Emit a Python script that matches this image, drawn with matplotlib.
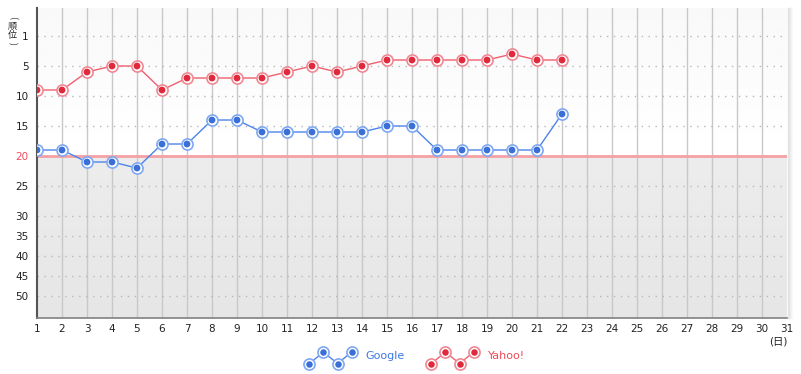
import numpy as np
import matplotlib
matplotlib.use("Agg")
import matplotlib.pyplot as plt
from matplotlib.lines import Line2D
from matplotlib.legend_handler import HandlerBase

plt.rcParams['font.family'] = ['DejaVu Sans', 'Noto Sans CJK JP']

# データ (日ごとの順位)
days = list(range(1, 23))
yahoo = [9, 9, 6, 5, 5, 9, 7, 7, 7, 7, 6, 5, 6, 5, 4, 4, 4, 4, 4, 3, 4, 4]
google = [19, 19, 21, 21, 22, 18, 18, 14, 14, 16, 16, 16, 16, 16, 15, 15, 19, 19, 19, 19, 19, 13]
rank_ticks = [0, 5, 10, 15, 20, 25, 30, 35, 40, 45, 50]
rank_labels = ['1', '5', '10', '15', '20', '25', '30', '35', '40', '45', '50']
day_ticks = list(range(1, 32))

blue = dict(line='#4d84ea', edge='#7ea8f2', dot='#3b6fd8', text='#3c78e8')
red = dict(line='#f0606e', edge='#f08894', dot='#e02a3c', text='#f04a58')

# 順位軸は区間ごとに縮尺が違う
src = [-20, 0, 20, 30, 50, 80]
dst = [-120, 0, 120, 180, 260, 380]


def fwd(v):
    return np.interp(v, src, dst)


def inv(v):
    return np.interp(v, dst, src)


fig = plt.figure(figsize=(8.01, 3.74), dpi=100)
ax = fig.add_axes([37 / 801, 56 / 374, 750 / 801, 310 / 374])
ax.set_yscale('function', functions=(fwd, inv))
ax.set_xlim(1, 31)
ax.set_ylim(55.5, -4.67)

# 背景のグラデーション
frac = ax.transAxes.inverted().transform(ax.transData.transform((1, 20)))[1]
top_grad = np.linspace(0.975, 1.0, 50).reshape(-1, 1)
low_grad = np.linspace(0.925, 0.90, 50).reshape(-1, 1)
ax.imshow(top_grad, cmap='gray', vmin=0, vmax=1, aspect='auto',
          extent=(0, 1, frac, 1), transform=ax.transAxes, zorder=0)
ax.imshow(low_grad, cmap='gray', vmin=0, vmax=1, aspect='auto',
          extent=(0, 1, 0, frac), transform=ax.transAxes, zorder=0)
ax.set_xlim(1, 31)
ax.set_ylim(55.5, -4.67)

for d in day_ticks[1:-1]:
    ax.axvline(d, color='#c8c8c8', lw=1, zorder=1)
for r in rank_ticks:
    if r != 20:
        ax.axhline(r, color='#b8b8b8', lw=1, ls=(0, (1, 4)), zorder=1)
ax.axhline(20, color='#f4a0a4', lw=2, zorder=2)

for vals, c in [(google, blue), (yahoo, red)]:
    ax.plot(days, vals, color=c['line'], lw=1, zorder=3)
    ax.scatter(days, vals, s=64, facecolor='white', edgecolor=c['edge'], lw=1.2, zorder=4)
    ax.scatter(days, vals, s=24, facecolor=c['dot'], edgecolor='none', zorder=5)

ax.set_xticks(day_ticks)
ax.set_xticklabels([str(d) for d in day_ticks])
ax.set_yticks(rank_ticks)
ax.set_yticklabels(rank_labels)
ax.yaxis.set_minor_locator(matplotlib.ticker.NullLocator())
ax.tick_params(axis='both', length=0, labelsize=7.5, colors='#222222')
ax.tick_params(axis='y', pad=6)
ax.tick_params(axis='x', pad=4)
for lab in ax.get_yticklabels():
    if lab.get_text() == '20':
        lab.set_color('#f04a58')

for side in ['top', 'right']:
    ax.spines[side].set_visible(False)
ax.spines['left'].set_color('#555555')
ax.spines['left'].set_linewidth(1.5)
ax.spines['bottom'].set_color('#808080')
ax.spines['bottom'].set_linewidth(1.2)

# 右側の影
for i, a in enumerate([0.10, 0.07, 0.05, 0.03, 0.015]):
    fig.add_artist(Line2D([(788 + i) / 801] * 2, [56 / 374, 366 / 374],
                          color='black', alpha=a, lw=1))

# 縦書きの軸ラベル
for ch, yp, rot in [('(', 17, -90), ('順', 26.5, 0), ('位', 35, 0), (')', 43, -90)]:
    fig.text(12 / 801, 1 - yp / 374, ch, fontsize=6.5, ha='center', va='center',
             rotation=rot, color='#222222', family=['Noto Sans CJK JP', 'DejaVu Sans'])
fig.text(778 / 801, 1 - 341 / 374, '(日)', fontsize=7.5, ha='center', va='center',
         color='#222222')


class ZigZag(HandlerBase):
    def __init__(self, c):
        super().__init__()
        self.c = c

    def create_artists(self, legend, orig_handle, xdescent, ydescent, width, height,
                       fontsize, trans):
        xs = np.linspace(0, width, 4) - xdescent
        ys = np.array([-0.3, 0.85, -0.3, 0.85]) * height - ydescent
        ln = Line2D(xs, ys, color=self.c['line'], lw=1, transform=trans)
        outer = Line2D(xs, ys, ls='', marker='o', ms=8, mfc='white',
                       mec=self.c['edge'], mew=1.2, transform=trans)
        inner = Line2D(xs, ys, ls='', marker='o', ms=4.7, mfc=self.c['dot'],
                       mec='none', transform=trans)
        return [ln, outer, inner]


h1 = Line2D([], [])
h2 = Line2D([], [])
leg = fig.legend(handles=[h1, h2], labels=['Google', 'Yahoo!'],
                 handler_map={h1: ZigZag(blue), h2: ZigZag(red)},
                 loc='center', bbox_to_anchor=(417 / 801, 1 - 356 / 374), ncol=2,
                 frameon=False, fontsize=8, handlelength=3.8, handleheight=1.0,
                 handletextpad=1.25, columnspacing=2.4)
leg.get_texts()[0].set_color(blue['text'])
leg.get_texts()[1].set_color(red['text'])

fig.savefig('out.png', dpi=100)
